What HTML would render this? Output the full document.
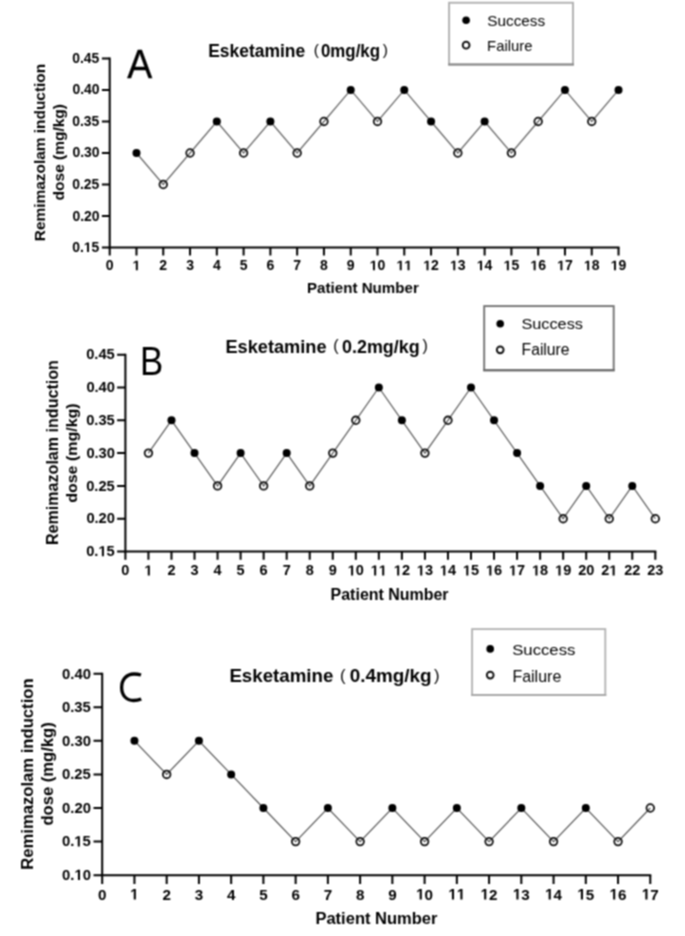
<!DOCTYPE html>
<html><head><meta charset="utf-8"><style>
html,body{margin:0;padding:0;background:#fff;}
svg{display:block;}
text{font-family:"Liberation Sans", sans-serif;fill:#000;}
</style></head><body>
<svg width="685" height="936" viewBox="0 0 685 936">
<defs><filter id="bl" x="0" y="0" width="1" height="1" color-interpolation-filters="sRGB"><feConvolveMatrix order="3" kernelMatrix="0.0625 0.1250 0.0625 0.1250 0.2500 0.1250 0.0625 0.1250 0.0625" divisor="1" edgeMode="duplicate" preserveAlpha="true"/></filter></defs>
<g filter="url(#bl)">
<rect width="685" height="936" fill="#fff"/>
<g><path d="M109.7 57.4V247.58H619.52" fill="none" stroke="#000" stroke-width="2"/><path d="M101.9 58.4H109.7 M101.9 89.93H109.7 M101.9 121.46H109.7 M101.9 152.99H109.7 M101.9 184.52H109.7 M101.9 216.05H109.7 M101.9 247.58H109.7 M109.7 247.58V255.38 M136.48 247.58V255.38 M163.26 247.58V255.38 M190.04 247.58V255.38 M216.82 247.58V255.38 M243.6 247.58V255.38 M270.38 247.58V255.38 M297.16 247.58V255.38 M323.94 247.58V255.38 M350.72 247.58V255.38 M377.5 247.58V255.38 M404.28 247.58V255.38 M431.06 247.58V255.38 M457.84 247.58V255.38 M484.62 247.58V255.38 M511.4 247.58V255.38 M538.18 247.58V255.38 M564.96 247.58V255.38 M591.74 247.58V255.38 M618.52 247.58V255.38" fill="none" stroke="#000" stroke-width="2"/><text x="72.24" y="62.88" font-size="13.9" font-weight="bold">0.45</text><text x="72.42" y="94.41" font-size="13.9" font-weight="bold">0.40</text><text x="72.24" y="125.94" font-size="13.9" font-weight="bold">0.35</text><text x="72.42" y="157.47" font-size="13.9" font-weight="bold">0.30</text><text x="72.24" y="189" font-size="13.9" font-weight="bold">0.25</text><text x="72.42" y="220.53" font-size="13.9" font-weight="bold">0.20</text><text x="72.24" y="252.06" font-size="13.9" font-weight="bold">0. 5</text><path transform="translate(83.83 252.06) scale(0.00679 -0.00679)" d="M478 0L478 1170L140 959L140 1180L493 1409L759 1409L759 0Z"/><text x="105.81" y="270.3" font-size="14.0" font-weight="bold">0</text><text x="132.59" y="270.3" font-size="14.0" font-weight="bold"> </text><path transform="translate(132.59 270.3) scale(0.00684 -0.00684)" d="M478 0L478 1170L140 959L140 1180L493 1409L759 1409L759 0Z"/><text x="159.37" y="270.3" font-size="14.0" font-weight="bold">2</text><text x="186.15" y="270.3" font-size="14.0" font-weight="bold">3</text><text x="212.93" y="270.3" font-size="14.0" font-weight="bold">4</text><text x="239.71" y="270.3" font-size="14.0" font-weight="bold">5</text><text x="266.49" y="270.3" font-size="14.0" font-weight="bold">6</text><text x="293.27" y="270.3" font-size="14.0" font-weight="bold">7</text><text x="320.05" y="270.3" font-size="14.0" font-weight="bold">8</text><text x="346.83" y="270.3" font-size="14.0" font-weight="bold">9</text><text x="369.71" y="270.3" font-size="14.0" font-weight="bold"> 0</text><path transform="translate(369.71 270.3) scale(0.00684 -0.00684)" d="M478 0L478 1170L140 959L140 1180L493 1409L759 1409L759 0Z"/><text x="396.49" y="270.3" font-size="14.0" font-weight="bold">  </text><path transform="translate(396.49 270.3) scale(0.00684 -0.00684)" d="M478 0L478 1170L140 959L140 1180L493 1409L759 1409L759 0Z"/><path transform="translate(404.28 270.3) scale(0.00684 -0.00684)" d="M478 0L478 1170L140 959L140 1180L493 1409L759 1409L759 0Z"/><text x="423.27" y="270.3" font-size="14.0" font-weight="bold"> 2</text><path transform="translate(423.27 270.3) scale(0.00684 -0.00684)" d="M478 0L478 1170L140 959L140 1180L493 1409L759 1409L759 0Z"/><text x="450.05" y="270.3" font-size="14.0" font-weight="bold"> 3</text><path transform="translate(450.05 270.3) scale(0.00684 -0.00684)" d="M478 0L478 1170L140 959L140 1180L493 1409L759 1409L759 0Z"/><text x="476.83" y="270.3" font-size="14.0" font-weight="bold"> 4</text><path transform="translate(476.83 270.3) scale(0.00684 -0.00684)" d="M478 0L478 1170L140 959L140 1180L493 1409L759 1409L759 0Z"/><text x="503.61" y="270.3" font-size="14.0" font-weight="bold"> 5</text><path transform="translate(503.61 270.3) scale(0.00684 -0.00684)" d="M478 0L478 1170L140 959L140 1180L493 1409L759 1409L759 0Z"/><text x="530.39" y="270.3" font-size="14.0" font-weight="bold"> 6</text><path transform="translate(530.39 270.3) scale(0.00684 -0.00684)" d="M478 0L478 1170L140 959L140 1180L493 1409L759 1409L759 0Z"/><text x="557.17" y="270.3" font-size="14.0" font-weight="bold"> 7</text><path transform="translate(557.17 270.3) scale(0.00684 -0.00684)" d="M478 0L478 1170L140 959L140 1180L493 1409L759 1409L759 0Z"/><text x="583.95" y="270.3" font-size="14.0" font-weight="bold"> 8</text><path transform="translate(583.95 270.3) scale(0.00684 -0.00684)" d="M478 0L478 1170L140 959L140 1180L493 1409L759 1409L759 0Z"/><text x="610.73" y="270.3" font-size="14.0" font-weight="bold"> 9</text><path transform="translate(610.73 270.3) scale(0.00684 -0.00684)" d="M478 0L478 1170L140 959L140 1180L493 1409L759 1409L759 0Z"/><polyline points="136.48,152.99 163.26,184.52 190.04,152.99 216.82,121.46 243.6,152.99 270.38,121.46 297.16,152.99 323.94,121.46 350.72,89.93 377.5,121.46 404.28,89.93 431.06,121.46 457.84,152.99 484.62,121.46 511.4,152.99 538.18,121.46 564.96,89.93 591.74,121.46 618.52,89.93" fill="none" stroke="#6a6a6a" stroke-width="1.3"/><circle cx="136.48" cy="152.99" r="4" fill="#000"/><circle cx="163.26" cy="184.52" r="3.8" fill="none" stroke="#111" stroke-width="1.8"/><circle cx="190.04" cy="152.99" r="3.8" fill="none" stroke="#111" stroke-width="1.8"/><circle cx="216.82" cy="121.46" r="4" fill="#000"/><circle cx="243.6" cy="152.99" r="3.8" fill="none" stroke="#111" stroke-width="1.8"/><circle cx="270.38" cy="121.46" r="4" fill="#000"/><circle cx="297.16" cy="152.99" r="3.8" fill="none" stroke="#111" stroke-width="1.8"/><circle cx="323.94" cy="121.46" r="3.8" fill="none" stroke="#111" stroke-width="1.8"/><circle cx="350.72" cy="89.93" r="4" fill="#000"/><circle cx="377.5" cy="121.46" r="3.8" fill="none" stroke="#111" stroke-width="1.8"/><circle cx="404.28" cy="89.93" r="4" fill="#000"/><circle cx="431.06" cy="121.46" r="4" fill="#000"/><circle cx="457.84" cy="152.99" r="3.8" fill="none" stroke="#111" stroke-width="1.8"/><circle cx="484.62" cy="121.46" r="4" fill="#000"/><circle cx="511.4" cy="152.99" r="3.8" fill="none" stroke="#111" stroke-width="1.8"/><circle cx="538.18" cy="121.46" r="3.8" fill="none" stroke="#111" stroke-width="1.8"/><circle cx="564.96" cy="89.93" r="4" fill="#000"/><circle cx="591.74" cy="121.46" r="3.8" fill="none" stroke="#111" stroke-width="1.8"/><circle cx="618.52" cy="89.93" r="4" fill="#000"/><rect x="449.1" y="2.75" width="123.9" height="61.75" fill="#fff" stroke="#b0b0b0" stroke-width="1.9"/><path d="M448.15 64.5H573.95" stroke="#8a8a8a" stroke-width="2"/><circle cx="466.1" cy="20.3" r="3.8" fill="#000"/><circle cx="466.1" cy="45.2" r="3.4" fill="none" stroke="#111" stroke-width="1.9"/></g>
<g><path d="M125.4 353.7V551.5H656.32" fill="none" stroke="#000" stroke-width="2"/><path d="M117.1 354.7H125.4 M117.1 387.5H125.4 M117.1 420.3H125.4 M117.1 453.1H125.4 M117.1 485.9H125.4 M117.1 518.7H125.4 M117.1 551.5H125.4 M125.4 551.5V559.8 M148.44 551.5V559.8 M171.48 551.5V559.8 M194.52 551.5V559.8 M217.56 551.5V559.8 M240.6 551.5V559.8 M263.64 551.5V559.8 M286.68 551.5V559.8 M309.72 551.5V559.8 M332.76 551.5V559.8 M355.8 551.5V559.8 M378.84 551.5V559.8 M401.88 551.5V559.8 M424.92 551.5V559.8 M447.96 551.5V559.8 M471 551.5V559.8 M494.04 551.5V559.8 M517.08 551.5V559.8 M540.12 551.5V559.8 M563.16 551.5V559.8 M586.2 551.5V559.8 M609.24 551.5V559.8 M632.28 551.5V559.8 M655.32 551.5V559.8" fill="none" stroke="#000" stroke-width="2"/><text x="86.2" y="359.46" font-size="14.7" font-weight="bold">0.45</text><text x="86.39" y="392.26" font-size="14.7" font-weight="bold">0.40</text><text x="86.2" y="425.06" font-size="14.7" font-weight="bold">0.35</text><text x="86.39" y="457.86" font-size="14.7" font-weight="bold">0.30</text><text x="86.2" y="490.66" font-size="14.7" font-weight="bold">0.25</text><text x="86.39" y="523.46" font-size="14.7" font-weight="bold">0.20</text><text x="86.2" y="556.26" font-size="14.7" font-weight="bold">0. 5</text><path transform="translate(98.46 556.26) scale(0.00718 -0.00718)" d="M478 0L478 1170L140 959L140 1180L493 1409L759 1409L759 0Z"/><text x="121.37" y="575.4" font-size="14.5" font-weight="bold">0</text><text x="144.41" y="575.4" font-size="14.5" font-weight="bold"> </text><path transform="translate(144.41 575.4) scale(0.00708 -0.00708)" d="M478 0L478 1170L140 959L140 1180L493 1409L759 1409L759 0Z"/><text x="167.45" y="575.4" font-size="14.5" font-weight="bold">2</text><text x="190.49" y="575.4" font-size="14.5" font-weight="bold">3</text><text x="213.53" y="575.4" font-size="14.5" font-weight="bold">4</text><text x="236.57" y="575.4" font-size="14.5" font-weight="bold">5</text><text x="259.61" y="575.4" font-size="14.5" font-weight="bold">6</text><text x="282.65" y="575.4" font-size="14.5" font-weight="bold">7</text><text x="305.69" y="575.4" font-size="14.5" font-weight="bold">8</text><text x="328.73" y="575.4" font-size="14.5" font-weight="bold">9</text><text x="347.74" y="575.4" font-size="14.5" font-weight="bold"> 0</text><path transform="translate(347.74 575.4) scale(0.00708 -0.00708)" d="M478 0L478 1170L140 959L140 1180L493 1409L759 1409L759 0Z"/><text x="370.78" y="575.4" font-size="14.5" font-weight="bold">  </text><path transform="translate(370.78 575.4) scale(0.00708 -0.00708)" d="M478 0L478 1170L140 959L140 1180L493 1409L759 1409L759 0Z"/><path transform="translate(378.84 575.4) scale(0.00708 -0.00708)" d="M478 0L478 1170L140 959L140 1180L493 1409L759 1409L759 0Z"/><text x="393.82" y="575.4" font-size="14.5" font-weight="bold"> 2</text><path transform="translate(393.82 575.4) scale(0.00708 -0.00708)" d="M478 0L478 1170L140 959L140 1180L493 1409L759 1409L759 0Z"/><text x="416.86" y="575.4" font-size="14.5" font-weight="bold"> 3</text><path transform="translate(416.86 575.4) scale(0.00708 -0.00708)" d="M478 0L478 1170L140 959L140 1180L493 1409L759 1409L759 0Z"/><text x="439.9" y="575.4" font-size="14.5" font-weight="bold"> 4</text><path transform="translate(439.9 575.4) scale(0.00708 -0.00708)" d="M478 0L478 1170L140 959L140 1180L493 1409L759 1409L759 0Z"/><text x="462.94" y="575.4" font-size="14.5" font-weight="bold"> 5</text><path transform="translate(462.94 575.4) scale(0.00708 -0.00708)" d="M478 0L478 1170L140 959L140 1180L493 1409L759 1409L759 0Z"/><text x="485.98" y="575.4" font-size="14.5" font-weight="bold"> 6</text><path transform="translate(485.98 575.4) scale(0.00708 -0.00708)" d="M478 0L478 1170L140 959L140 1180L493 1409L759 1409L759 0Z"/><text x="509.02" y="575.4" font-size="14.5" font-weight="bold"> 7</text><path transform="translate(509.02 575.4) scale(0.00708 -0.00708)" d="M478 0L478 1170L140 959L140 1180L493 1409L759 1409L759 0Z"/><text x="532.06" y="575.4" font-size="14.5" font-weight="bold"> 8</text><path transform="translate(532.06 575.4) scale(0.00708 -0.00708)" d="M478 0L478 1170L140 959L140 1180L493 1409L759 1409L759 0Z"/><text x="555.1" y="575.4" font-size="14.5" font-weight="bold"> 9</text><path transform="translate(555.1 575.4) scale(0.00708 -0.00708)" d="M478 0L478 1170L140 959L140 1180L493 1409L759 1409L759 0Z"/><text x="578.14" y="575.4" font-size="14.5" font-weight="bold">20</text><text x="601.18" y="575.4" font-size="14.5" font-weight="bold">2 </text><path transform="translate(609.24 575.4) scale(0.00708 -0.00708)" d="M478 0L478 1170L140 959L140 1180L493 1409L759 1409L759 0Z"/><text x="624.22" y="575.4" font-size="14.5" font-weight="bold">22</text><text x="647.26" y="575.4" font-size="14.5" font-weight="bold">23</text><polyline points="148.44,453.1 171.48,420.3 194.52,453.1 217.56,485.9 240.6,453.1 263.64,485.9 286.68,453.1 309.72,485.9 332.76,453.1 355.8,420.3 378.84,387.5 401.88,420.3 424.92,453.1 447.96,420.3 471,387.5 494.04,420.3 517.08,453.1 540.12,485.9 563.16,518.7 586.2,485.9 609.24,518.7 632.28,485.9 655.32,518.7" fill="none" stroke="#5c5c5c" stroke-width="1.2"/><circle cx="148.44" cy="453.1" r="3.8" fill="none" stroke="#111" stroke-width="1.8"/><circle cx="171.48" cy="420.3" r="4" fill="#000"/><circle cx="194.52" cy="453.1" r="4" fill="#000"/><circle cx="217.56" cy="485.9" r="3.8" fill="none" stroke="#111" stroke-width="1.8"/><circle cx="240.6" cy="453.1" r="4" fill="#000"/><circle cx="263.64" cy="485.9" r="3.8" fill="none" stroke="#111" stroke-width="1.8"/><circle cx="286.68" cy="453.1" r="4" fill="#000"/><circle cx="309.72" cy="485.9" r="3.8" fill="none" stroke="#111" stroke-width="1.8"/><circle cx="332.76" cy="453.1" r="3.8" fill="none" stroke="#111" stroke-width="1.8"/><circle cx="355.8" cy="420.3" r="3.8" fill="none" stroke="#111" stroke-width="1.8"/><circle cx="378.84" cy="387.5" r="4" fill="#000"/><circle cx="401.88" cy="420.3" r="4" fill="#000"/><circle cx="424.92" cy="453.1" r="3.8" fill="none" stroke="#111" stroke-width="1.8"/><circle cx="447.96" cy="420.3" r="3.8" fill="none" stroke="#111" stroke-width="1.8"/><circle cx="471" cy="387.5" r="4" fill="#000"/><circle cx="494.04" cy="420.3" r="4" fill="#000"/><circle cx="517.08" cy="453.1" r="4" fill="#000"/><circle cx="540.12" cy="485.9" r="4" fill="#000"/><circle cx="563.16" cy="518.7" r="3.8" fill="none" stroke="#111" stroke-width="1.8"/><circle cx="586.2" cy="485.9" r="4" fill="#000"/><circle cx="609.24" cy="518.7" r="3.8" fill="none" stroke="#111" stroke-width="1.8"/><circle cx="632.28" cy="485.9" r="4" fill="#000"/><circle cx="655.32" cy="518.7" r="3.8" fill="none" stroke="#111" stroke-width="1.8"/><rect x="484.2" y="306.1" width="129.5" height="64.2" fill="#fff" stroke="#737373" stroke-width="1.9"/><path d="M483.25 370.3H614.65" stroke="#6a6a6a" stroke-width="2"/><circle cx="500.2" cy="323.7" r="3.8" fill="#000"/><circle cx="500.2" cy="349.85" r="3.4" fill="none" stroke="#111" stroke-width="1.9"/></g>
<g><path d="M102.2 672.7V875.18H651.28" fill="none" stroke="#000" stroke-width="2"/><path d="M93.5 673.7H102.2 M93.5 707.28H102.2 M93.5 740.86H102.2 M93.5 774.44H102.2 M93.5 808.02H102.2 M93.5 841.6H102.2 M93.5 875.18H102.2 M102.2 875.18V883.88 M134.44 875.18V883.88 M166.68 875.18V883.88 M198.92 875.18V883.88 M231.16 875.18V883.88 M263.4 875.18V883.88 M295.64 875.18V883.88 M327.88 875.18V883.88 M360.12 875.18V883.88 M392.36 875.18V883.88 M424.6 875.18V883.88 M456.84 875.18V883.88 M489.08 875.18V883.88 M521.32 875.18V883.88 M553.56 875.18V883.88 M585.8 875.18V883.88 M618.04 875.18V883.88 M650.28 875.18V883.88" fill="none" stroke="#000" stroke-width="2"/><text x="62.11" y="678.51" font-size="14.85" font-weight="bold">0.40</text><text x="61.91" y="712.09" font-size="14.85" font-weight="bold">0.35</text><text x="62.11" y="745.67" font-size="14.85" font-weight="bold">0.30</text><text x="61.91" y="779.25" font-size="14.85" font-weight="bold">0.25</text><text x="62.11" y="812.83" font-size="14.85" font-weight="bold">0.20</text><text x="61.91" y="846.41" font-size="14.85" font-weight="bold">0. 5</text><path transform="translate(74.3 846.41) scale(0.00725 -0.00725)" d="M478 0L478 1170L140 959L140 1180L493 1409L759 1409L759 0Z"/><text x="62.11" y="879.99" font-size="14.85" font-weight="bold">0. 0</text><path transform="translate(74.49 879.99) scale(0.00725 -0.00725)" d="M478 0L478 1170L140 959L140 1180L493 1409L759 1409L759 0Z"/><text x="97.97" y="899.5" font-size="15.2" font-weight="bold">0</text><text x="130.21" y="899.5" font-size="15.2" font-weight="bold"> </text><path transform="translate(130.21 899.5) scale(0.00742 -0.00742)" d="M478 0L478 1170L140 959L140 1180L493 1409L759 1409L759 0Z"/><text x="162.45" y="899.5" font-size="15.2" font-weight="bold">2</text><text x="194.69" y="899.5" font-size="15.2" font-weight="bold">3</text><text x="226.93" y="899.5" font-size="15.2" font-weight="bold">4</text><text x="259.17" y="899.5" font-size="15.2" font-weight="bold">5</text><text x="291.41" y="899.5" font-size="15.2" font-weight="bold">6</text><text x="323.65" y="899.5" font-size="15.2" font-weight="bold">7</text><text x="355.89" y="899.5" font-size="15.2" font-weight="bold">8</text><text x="388.13" y="899.5" font-size="15.2" font-weight="bold">9</text><text x="416.15" y="899.5" font-size="15.2" font-weight="bold"> 0</text><path transform="translate(416.15 899.5) scale(0.00742 -0.00742)" d="M478 0L478 1170L140 959L140 1180L493 1409L759 1409L759 0Z"/><text x="448.39" y="899.5" font-size="15.2" font-weight="bold">  </text><path transform="translate(448.39 899.5) scale(0.00742 -0.00742)" d="M478 0L478 1170L140 959L140 1180L493 1409L759 1409L759 0Z"/><path transform="translate(456.84 899.5) scale(0.00742 -0.00742)" d="M478 0L478 1170L140 959L140 1180L493 1409L759 1409L759 0Z"/><text x="480.63" y="899.5" font-size="15.2" font-weight="bold"> 2</text><path transform="translate(480.63 899.5) scale(0.00742 -0.00742)" d="M478 0L478 1170L140 959L140 1180L493 1409L759 1409L759 0Z"/><text x="512.87" y="899.5" font-size="15.2" font-weight="bold"> 3</text><path transform="translate(512.87 899.5) scale(0.00742 -0.00742)" d="M478 0L478 1170L140 959L140 1180L493 1409L759 1409L759 0Z"/><text x="545.11" y="899.5" font-size="15.2" font-weight="bold"> 4</text><path transform="translate(545.11 899.5) scale(0.00742 -0.00742)" d="M478 0L478 1170L140 959L140 1180L493 1409L759 1409L759 0Z"/><text x="577.35" y="899.5" font-size="15.2" font-weight="bold"> 5</text><path transform="translate(577.35 899.5) scale(0.00742 -0.00742)" d="M478 0L478 1170L140 959L140 1180L493 1409L759 1409L759 0Z"/><text x="609.59" y="899.5" font-size="15.2" font-weight="bold"> 6</text><path transform="translate(609.59 899.5) scale(0.00742 -0.00742)" d="M478 0L478 1170L140 959L140 1180L493 1409L759 1409L759 0Z"/><text x="641.83" y="899.5" font-size="15.2" font-weight="bold"> 7</text><path transform="translate(641.83 899.5) scale(0.00742 -0.00742)" d="M478 0L478 1170L140 959L140 1180L493 1409L759 1409L759 0Z"/><polyline points="134.44,740.86 166.68,774.44 198.92,740.86 231.16,774.44 263.4,808.02 295.64,841.6 327.88,808.02 360.12,841.6 392.36,808.02 424.6,841.6 456.84,808.02 489.08,841.6 521.32,808.02 553.56,841.6 585.8,808.02 618.04,841.6 650.28,808.02" fill="none" stroke="#555" stroke-width="1.2"/><circle cx="134.44" cy="740.86" r="4" fill="#000"/><circle cx="166.68" cy="774.44" r="3.8" fill="none" stroke="#111" stroke-width="1.8"/><circle cx="198.92" cy="740.86" r="4" fill="#000"/><circle cx="231.16" cy="774.44" r="4" fill="#000"/><circle cx="263.4" cy="808.02" r="4" fill="#000"/><circle cx="295.64" cy="841.6" r="3.8" fill="none" stroke="#111" stroke-width="1.8"/><circle cx="327.88" cy="808.02" r="4" fill="#000"/><circle cx="360.12" cy="841.6" r="3.8" fill="none" stroke="#111" stroke-width="1.8"/><circle cx="392.36" cy="808.02" r="4" fill="#000"/><circle cx="424.6" cy="841.6" r="3.8" fill="none" stroke="#111" stroke-width="1.8"/><circle cx="456.84" cy="808.02" r="4" fill="#000"/><circle cx="489.08" cy="841.6" r="3.8" fill="none" stroke="#111" stroke-width="1.8"/><circle cx="521.32" cy="808.02" r="4" fill="#000"/><circle cx="553.56" cy="841.6" r="3.8" fill="none" stroke="#111" stroke-width="1.8"/><circle cx="585.8" cy="808.02" r="4" fill="#000"/><circle cx="618.04" cy="841.6" r="3.8" fill="none" stroke="#111" stroke-width="1.8"/><circle cx="650.28" cy="808.02" r="3.8" fill="none" stroke="#111" stroke-width="1.8"/><rect x="472.1" y="629.1" width="133.2" height="65.9" fill="#fff" stroke="#b4b4b4" stroke-width="1.9"/><path d="M471.15 695H606.25" stroke="#a8a8a8" stroke-width="2"/><circle cx="490.2" cy="648.9" r="3.8" fill="#000"/><circle cx="490.2" cy="675.1" r="3.4" fill="none" stroke="#111" stroke-width="1.9"/></g>
<g><path d="M141 675C138.8 674.3 136.5 674 134 674C126.2 674 121.65 680 121.65 687.5C121.65 695.5 126.5 700.5 133.5 700.5C136.5 700.5 139 699.9 141.2 698.9" fill="none" stroke="#000" stroke-width="3.3"/></g>
<g><text id="A_t1" x="208.2" y="56.7" font-size="18" font-weight="bold" fill="#000" textLength="97" lengthAdjust="spacingAndGlyphs">Esketamine</text><text id="A_p1" x="313.8" y="54.64" font-size="15.53" font-weight="normal" fill="#444">(</text><text id="A_t2" x="321" y="56.7" font-size="18.43" font-weight="bold" fill="#000" textLength="59" lengthAdjust="spacingAndGlyphs">0mg/kg</text><text id="A_p2" x="382.8" y="54.64" font-size="15.53" font-weight="normal" fill="#444">)</text><text id="A_L" x="127.2" y="78.1" font-size="41.14" font-weight="normal" fill="#000" stroke="#000" stroke-width="0.35" textLength="25" lengthAdjust="spacingAndGlyphs">A</text><text id="A_xl" x="307" y="292.7" font-size="14.71" font-weight="bold" fill="#000" textLength="111.8" lengthAdjust="spacingAndGlyphs">Patient Number</text><text id="A_s" x="487.2" y="25.9" font-size="14.57" font-weight="normal" fill="#585858" textLength="58" lengthAdjust="spacingAndGlyphs">Success</text><text id="A_f" x="487.1" y="50.9" font-size="14.71" font-weight="normal" fill="#585858" textLength="45.3" lengthAdjust="spacingAndGlyphs">Failure</text><text id="A_y1" transform="translate(44.95 241.2) rotate(-90)" font-size="15.01" font-weight="bold" fill="#000" textLength="177.4" lengthAdjust="spacingAndGlyphs">Remimazolam induction</text><text id="A_y2" transform="translate(63.7 200.4) rotate(-90)" font-size="15" font-weight="bold" fill="#000" textLength="96.4" lengthAdjust="spacingAndGlyphs">dose (mg/kg)</text><text id="B_t1" x="225.4" y="353" font-size="18.29" font-weight="bold" fill="#000" textLength="101.2" lengthAdjust="spacingAndGlyphs">Esketamine</text><text id="B_p1" x="333.2" y="351.15" font-size="15.96" font-weight="normal" fill="#444">(</text><text id="B_t2" x="342" y="353" font-size="18.29" font-weight="bold" fill="#000" textLength="77.6" lengthAdjust="spacingAndGlyphs">0.2mg/kg</text><text id="B_p2" x="422.4" y="351.15" font-size="15.96" font-weight="normal" fill="#444">)</text><text id="B_L" x="140" y="375.3" font-size="41.29" font-weight="normal" fill="#000" textLength="23.2" lengthAdjust="spacingAndGlyphs">B</text><text id="B_xl" x="330.6" y="600" font-size="15.57" font-weight="bold" fill="#000" textLength="118" lengthAdjust="spacingAndGlyphs">Patient Number</text><text id="B_s" x="521.4" y="329.3" font-size="14.57" font-weight="normal" fill="#585858" textLength="61.6" lengthAdjust="spacingAndGlyphs">Success</text><text id="B_f" x="521.6" y="355" font-size="15.57" font-weight="normal" fill="#585858" textLength="47.9" lengthAdjust="spacingAndGlyphs">Failure</text><text id="B_y1" transform="translate(57.6 545) rotate(-90)" font-size="16.01" font-weight="bold" fill="#000" textLength="184.9" lengthAdjust="spacingAndGlyphs">Remimazolam induction</text><text id="B_y2" transform="translate(77.3 502.8) rotate(-90)" font-size="15.14" font-weight="bold" fill="#000" textLength="99.4" lengthAdjust="spacingAndGlyphs">dose (mg/kg)</text><text id="C_t1" x="229.4" y="681.7" font-size="18.43" font-weight="bold" fill="#000" textLength="104" lengthAdjust="spacingAndGlyphs">Esketamine</text><text id="C_p1" x="340" y="681.11" font-size="16.6" font-weight="normal" fill="#444">(</text><text id="C_t2" x="349.8" y="681.7" font-size="18.43" font-weight="bold" fill="#000" textLength="81.8" lengthAdjust="spacingAndGlyphs">0.4mg/kg</text><text id="C_p2" x="434" y="681.11" font-size="16.6" font-weight="normal" fill="#444">)</text><text id="C_xl" x="315.4" y="924.2" font-size="15.71" font-weight="bold" fill="#000" textLength="122.1" lengthAdjust="spacingAndGlyphs">Patient Number</text><text id="C_s" x="512.2" y="654.7" font-size="15.43" font-weight="normal" fill="#585858" textLength="63.2" lengthAdjust="spacingAndGlyphs">Success</text><text id="C_f" x="512.4" y="681.6" font-size="15.71" font-weight="normal" fill="#585858" textLength="48.9" lengthAdjust="spacingAndGlyphs">Failure</text><text id="C_y1" transform="translate(32.6 869.8) rotate(-90)" font-size="15.81" font-weight="bold" fill="#000" textLength="191.4" lengthAdjust="spacingAndGlyphs">Remimazolam induction</text><text id="C_y2" transform="translate(52.8 825.6) rotate(-90)" font-size="16.35" font-weight="bold" fill="#000" textLength="103.3" lengthAdjust="spacingAndGlyphs">dose (mg/kg)</text></g>
</g>
</svg>
</body></html>
